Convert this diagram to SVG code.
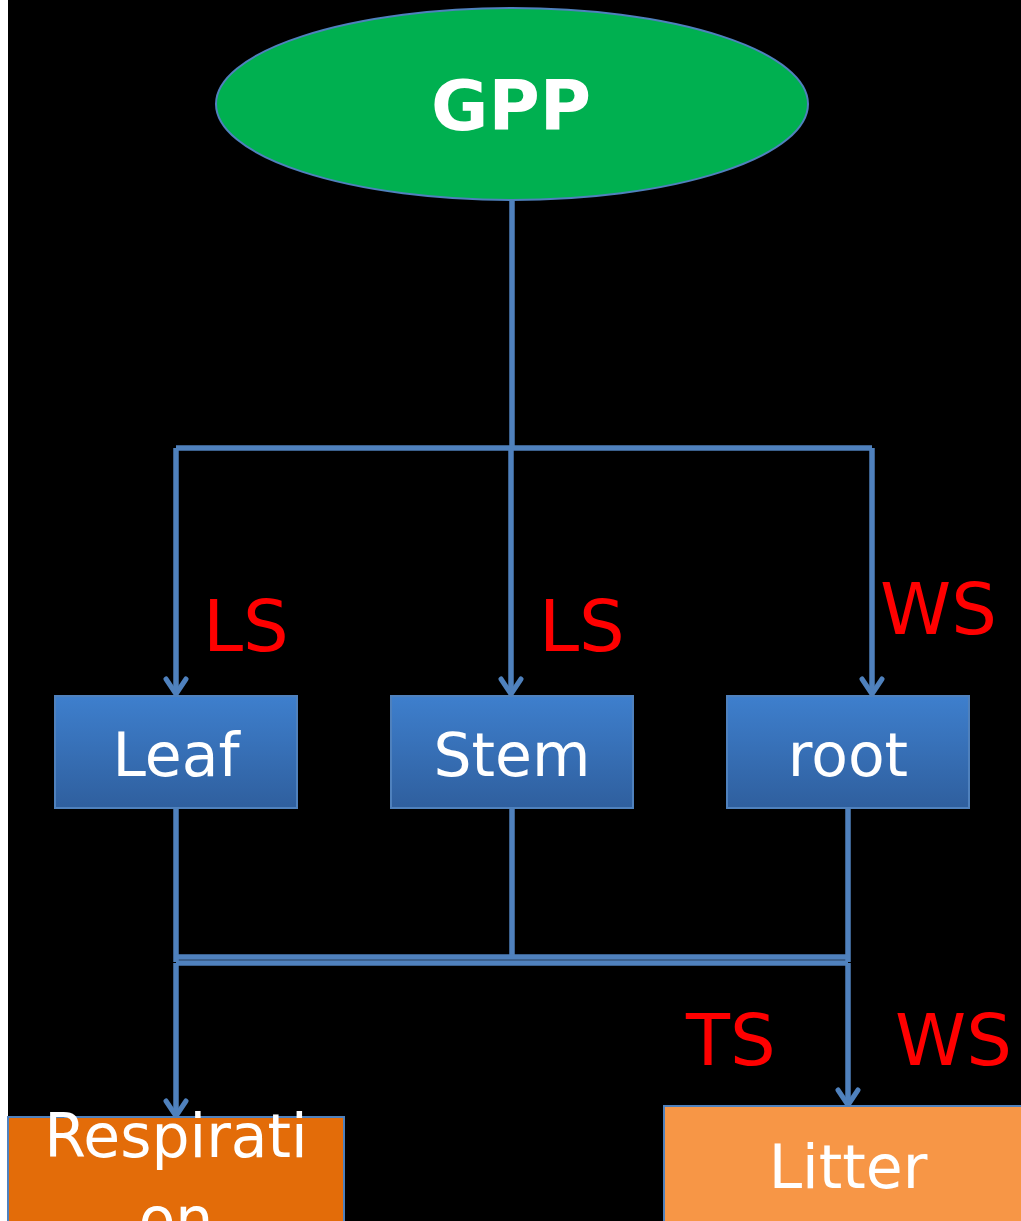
<svg xmlns="http://www.w3.org/2000/svg" width="1021" height="1221" viewBox="0 0 1021 1221">
  <defs>
    <linearGradient id="boxFill" x1="0" y1="0" x2="0" y2="1">
      <stop offset="0" stop-color="#3E7FCD"/>
      <stop offset="1" stop-color="#2F5F9E"/>
    </linearGradient>
    <!-- open chevron head, drawn pointing along +x -->
    <marker id="arrow" viewBox="0 0 22 26" refX="19" refY="13" markerWidth="22" markerHeight="26" markerUnits="userSpaceOnUse" orient="auto">
      <path d="M4,3 L19,13 L4,23" fill="none" stroke="#4F81BD" stroke-width="5" stroke-linecap="round" stroke-linejoin="round"/>
    </marker>
    <style>
      .wire { fill: none; stroke: #4F81BD; stroke-width: 5.5; }
      .arr { marker-end: url(#arrow); }
      .box { fill: url(#boxFill); stroke: #4F81BD; stroke-width: 2; }
      .label { font-family: "Comic Sans MS", "DejaVu Sans", sans-serif; fill: #FFFFFF; text-anchor: middle; }
      .rate { font-family: "Comic Sans MS", "DejaVu Sans", sans-serif; fill: #FF0000; font-size: 72px; }
    </style>
  </defs>

  <!-- backdrop -->
  <rect x="0" y="0" width="1021" height="1221" fill="#000000"/>
  <rect x="0" y="0" width="8" height="1221" fill="#FFFFFF"/>

  <!-- connectors -->
  <g id="connectors">
    <path class="wire" d="M512,200 V448"/>
    <path class="wire" d="M176,448 H872"/>
    <path class="wire arr" d="M176,448 V694"/>
    <path class="wire arr" d="M511,448 V694"/>
    <path class="wire arr" d="M872,448 V694"/>
    <path class="wire" d="M176,808 V962"/>
    <path class="wire" d="M512,808 V958"/>
    <path class="wire" d="M848,808 V962"/>
    <path class="wire" d="M176,957 H848"/>
    <path class="wire" d="M176,963 H848"/>
    <path class="wire arr" d="M176,963 V1116"/>
    <path class="wire arr" d="M848,963 V1105"/>
  </g>

  <!-- GPP -->
  <g id="gpp">
    <ellipse cx="512" cy="104" rx="296" ry="96" fill="#00B050" stroke="#4F81BD" stroke-width="2"/>
    <text class="label" x="511" y="130" font-size="70" font-weight="bold">GPP</text>
  </g>

  <!-- pools -->
  <g id="leaf">
    <rect class="box" x="55" y="696" width="242" height="112"/>
    <text class="label" x="176" y="776" font-size="60">Leaf</text>
  </g>
  <g id="stem">
    <rect class="box" x="391" y="696" width="242" height="112"/>
    <text class="label" x="512" y="776" font-size="60">Stem</text>
  </g>
  <g id="root">
    <rect class="box" x="727" y="696" width="242" height="112"/>
    <text class="label" x="848" y="776" font-size="60">root</text>
  </g>

  <!-- sinks -->
  <g id="respiration">
    <rect x="8" y="1117" width="336" height="120" fill="#E36C09" stroke="#4F81BD" stroke-width="2"/>
    <text class="label" x="176" y="1157" font-size="60">Respirati</text>
    <text class="label" x="176" y="1240" font-size="60">on</text>
  </g>
  <g id="litter">
    <rect x="664" y="1106" width="370" height="130" fill="#F79646" stroke="#4F81BD" stroke-width="2"/>
    <text class="label" x="848" y="1188" font-size="60">Litter</text>
  </g>

  <!-- flux labels -->
  <g id="flux-labels">
    <text class="rate" x="203" y="651">LS</text>
    <text class="rate" x="539" y="651">LS</text>
    <text class="rate" x="880" y="634">WS</text>
    <text class="rate" x="686" y="1065">TS</text>
    <text class="rate" x="895" y="1065">WS</text>
  </g>
</svg>
